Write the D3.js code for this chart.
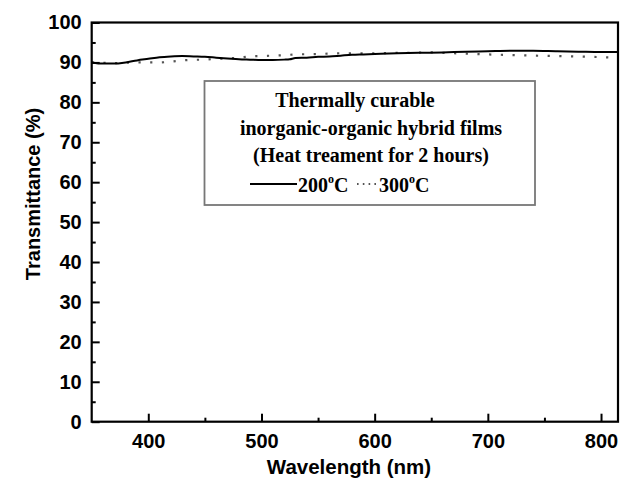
<!DOCTYPE html>
<html><head><meta charset="utf-8">
<script src="https://cdn.jsdelivr.net/npm/d3@7"></script>
<style>body{margin:0;background:#fff}svg{display:block}</style>
</head><body>
<svg id="c" width="628" height="491"></svg>
<script>
const wl200 = [350,360,370,380,390,400,410,420,430,440,450,460,470,480,490,500,510,520,525,530,540,550,560,570,580,590,600,620,640,660,680,700,720,740,760,780,800,815];
const t200  = [90.0,89.7,89.7,90.0,90.5,90.9,91.3,91.5,91.6,91.5,91.4,91.2,91.0,90.8,90.7,90.6,90.6,90.7,90.8,91.1,91.2,91.4,91.5,91.7,91.9,92.0,92.1,92.3,92.4,92.5,92.7,92.8,92.9,92.9,92.8,92.7,92.6,92.6];
const wl300 = [350,360,370,380,390,400,410,420,430,440,450,460,470,480,490,500,510,520,530,550,570,600,625,650,670,685,700,715,740,770,790,815];
const t300  = [90.0,89.9,89.8,89.9,90.0,90.0,90.0,90.2,90.5,90.65,90.7,90.9,91.0,91.2,91.5,91.6,91.7,91.8,92.0,92.1,92.3,92.3,92.4,92.5,92.3,92.15,92.0,91.9,91.7,91.55,91.4,91.2];
const xTicks = [400,500,600,700,800];
const xMinor = [450,550,650,750];
const yTicks = [0,10,20,30,40,50,60,70,80,90,100];
const yMinor = [5,15,25,35,45,55,65,75,85,95];
const legendLines = ["Thermally curable","inorganic-organic hybrid films","(Heat treament for 2 hours)"];
const seriesNames = ["200","300"];

const L=91.7, R=618, T=22.5, B=421.7;
const svg = d3.select("#c");
const x = d3.scaleLinear().domain([350,815]).range([L,R]);
const y = d3.scaleLinear().domain([0,100]).range([B,T]);

// data lines
const line = d3.line().x(d=>x(d[0])).y(d=>y(d[1])).curve(d3.curveMonotoneX);
svg.append("path").datum(wl300.map((w,i)=>[w,t300[i]]))
  .attr("d",line).attr("fill","none").attr("stroke","#555").attr("stroke-width",2.2)
  .attr("stroke-dasharray","2.2 9.5");
svg.append("path").datum(wl200.map((w,i)=>[w,t200[i]]))
  .attr("d",line).attr("fill","none").attr("stroke","#000").attr("stroke-width",2);

// axes
const fontS = "'Liberation Sans', Arial, sans-serif";
const xAx = svg.append("g").attr("transform",`translate(0,${B})`)
  .call(d3.axisBottom(x).tickValues(xTicks).tickSizeInner(-8).tickSizeOuter(0).tickPadding(12).tickFormat(d3.format("d")));
svg.append("g").attr("transform",`translate(0,${B})`)
  .call(d3.axisBottom(x).tickValues(xMinor).tickSizeInner(-4).tickSizeOuter(0).tickFormat(""));
const yAx = svg.append("g").attr("transform",`translate(${L},0)`)
  .call(d3.axisLeft(y).tickValues(yTicks).tickSizeInner(-8).tickSizeOuter(0).tickPadding(10).tickFormat(d3.format("d")));
svg.append("g").attr("transform",`translate(${L},0)`)
  .call(d3.axisLeft(y).tickValues(yMinor).tickSizeInner(-4).tickSizeOuter(0).tickFormat(""));
svg.selectAll(".domain").remove();
svg.selectAll(".tick line").attr("stroke","#000").attr("stroke-width",2);
svg.selectAll(".tick text").attr("font-family",fontS).attr("font-weight","bold").attr("font-size",20).attr("fill","#000");
xAx.selectAll(".tick text").attr("dy","0.71em");
// frame
svg.append("rect").attr("x",L).attr("y",T).attr("width",R-L).attr("height",B-T)
  .attr("fill","none").attr("stroke","#000").attr("stroke-width",2.2);

// axis titles
svg.append("text").attr("x",349).attr("y",474).attr("text-anchor","middle")
  .attr("font-family",fontS).attr("font-size",20.5).attr("font-weight","bold").text("Wavelength (nm)");
svg.append("text").attr("transform",`translate(40,194) rotate(-90)`).attr("text-anchor","middle")
  .attr("font-family",fontS).attr("font-size",20).attr("font-weight","bold").text("Transmittance (%)");

// legend box
svg.append("rect").attr("x",204.5).attr("y",81).attr("width",330.5).attr("height",124)
  .attr("fill","#fff").attr("stroke","#777").attr("stroke-width",1.8);
const fontT = "'Liberation Serif', 'Times New Roman', serif";
const lx = [355,371,371], ly = [107,135,162];
legendLines.forEach((s,i)=>{
  svg.append("text").attr("x",lx[i]).attr("y",ly[i]).attr("text-anchor","middle")
    .attr("font-family",fontT).attr("font-weight","bold").attr("font-size",20).text(s);
});
svg.append("line").attr("x1",250).attr("x2",297).attr("y1",184).attr("y2",184).attr("stroke","#000").attr("stroke-width",2);
svg.append("line").attr("x1",357).attr("x2",378).attr("y1",184).attr("y2",184).attr("stroke","#555").attr("stroke-width",2)
  .attr("stroke-dasharray","1.6 4.2");
[[seriesNames[0],298],[seriesNames[1],379]].forEach(([n,px])=>{
  const t = svg.append("text").attr("x",px).attr("y",191.5)
    .attr("font-family",fontT).attr("font-weight","bold").attr("font-size",20);
  t.append("tspan").text(n);
  t.append("tspan").attr("font-size",12).attr("dy",-9).text("o");
  t.append("tspan").attr("dy",9).text("C");
});
</script>
</body></html>
